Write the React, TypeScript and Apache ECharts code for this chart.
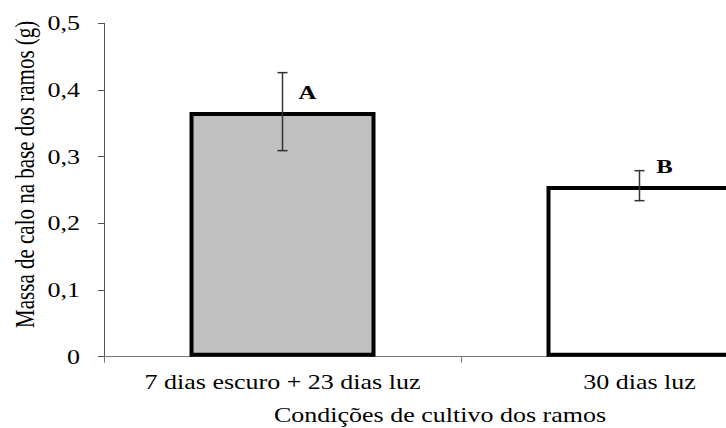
import React, { useEffect, useRef } from "react";
import * as echarts from "echarts";

const categories = ["7 dias escuro + 23 dias luz", "30 dias luz"];
const means = [0.367, 0.256];
const errLow = [0.309, 0.234];
const errHigh = [0.426, 0.279];
const letters = ["A", "B"];
const barColors = ["#c0c0c0", "#ffffff"];
const yTickValues = [0, 0.1, 0.2, 0.3, 0.4, 0.5];
const yTickLabels = ["0", "0,1", "0,2", "0,3", "0,4", "0,5"];
const yTitle = "Massa de calo na base dos ramos (g)";
const xTitle = "Condições de cultivo dos ramos";

const FONT = "Liberation Serif";
const SX = 1.3; // horizontal stretch of the original figure's text

export default function App() {
  const ref = useRef<HTMLDivElement>(null);
  useEffect(() => {
    if (!ref.current) return;
    const chart = echarts.init(ref.current, undefined, { renderer: "svg" });
    const option: any = {
      animation: false,
      backgroundColor: "#ffffff",
      grid: {
        left: 104,
        right: 12,
        top: 23.3,
        bottom: 71.3,
        containLabel: false,
        outerBoundsMode: "none",
      },
      xAxis: {
        type: "category",
        data: categories,
        axisLine: { show: true, lineStyle: { color: "#777", width: 1 } },
        axisTick: { show: true, length: 6, lineStyle: { color: "#777" } },
        axisLabel: { show: false },
        splitLine: { show: false },
      },
      yAxis: {
        type: "value",
        min: 0,
        max: 0.5,
        interval: 0.1,
        axisLine: { show: true, lineStyle: { color: "#555", width: 1 } },
        axisTick: { show: true, length: 6, lineStyle: { color: "#555" } },
        axisLabel: { show: false },
        splitLine: { show: false },
      },
      series: [
        {
          type: "bar",
          barWidth: 186,
          data: means.map((m, i) => ({
            value: m,
            itemStyle: { color: barColors[i], borderColor: "#000", borderWidth: 4 },
          })),
          z: 2,
        },
        {
          type: "custom",
          z: 5,
          data: categories.map((c, i) => [i, errLow[i], errHigh[i], means[i]]),
          renderItem: (params: any, api: any) => {
            const i = api.value(0);
            const lo = api.coord([i, api.value(1)]);
            const hi = api.coord([i, api.value(2)]);
            const top = api.coord([i, api.value(3)]);
            const cap = 5;
            const ls = { stroke: "#333", lineWidth: 1.5 };
            return {
              type: "group",
              children: [
                { type: "line", shape: { x1: lo[0], y1: lo[1], x2: hi[0], y2: hi[1] }, style: ls },
                { type: "line", shape: { x1: hi[0] - cap, y1: hi[1], x2: hi[0] + cap, y2: hi[1] }, style: ls },
                { type: "line", shape: { x1: lo[0] - cap, y1: lo[1], x2: lo[0] + cap, y2: lo[1] }, style: ls },
                {
                  type: "text",
                  x: top[0] + 25,
                  y: top[1] - 19,
                  scaleX: SX,
                  style: {
                    text: letters[i],
                    fontFamily: FONT,
                    fontSize: 19,
                    fontWeight: "bold",
                    fill: "#000",
                    align: "center",
                    verticalAlign: "middle",
                  },
                },
              ],
            };
          },
        },
      ],
    };
    chart.setOption(option);

    const textStyle = (text: string, align: string, size = 20) => ({
      text,
      fontFamily: FONT,
      fontSize: size,
      fill: "#000",
      align,
      verticalAlign: "middle",
    });

    const graphics: any[] = [];
    yTickValues.forEach((v, i) => {
      const y = chart.convertToPixel({ yAxisIndex: 0 }, v) as number;
      graphics.push({ type: "text", x: 80, y, scaleX: SX, style: textStyle(yTickLabels[i], "right") });
    });
    categories.forEach((c, i) => {
      const x = chart.convertToPixel({ xAxisIndex: 0 }, i) as number;
      graphics.push({ type: "text", x, y: 382.5, scaleX: SX, style: textStyle(c, "center") });
    });
    graphics.push({
      type: "text",
      x: 24,
      y: 174.3,
      rotation: Math.PI / 2,
      scaleY: SX,
      style: textStyle(yTitle, "center", 21),
    });
    graphics.push({
      type: "text",
      x: 440,
      y: 415.5,
      scaleX: SX,
      style: textStyle(xTitle, "center", 20),
    });
    chart.setOption({ graphic: graphics });

    return () => chart.dispose();
  }, []);
  return (
    <div
      style={{
        position: "fixed",
        left: 0,
        top: 0,
        width: 726,
        height: 428,
        overflow: "hidden",
        background: "#fff",
      }}
    >
      <div ref={ref} style={{ width: 830, height: 428 }} />
    </div>
  );
}
